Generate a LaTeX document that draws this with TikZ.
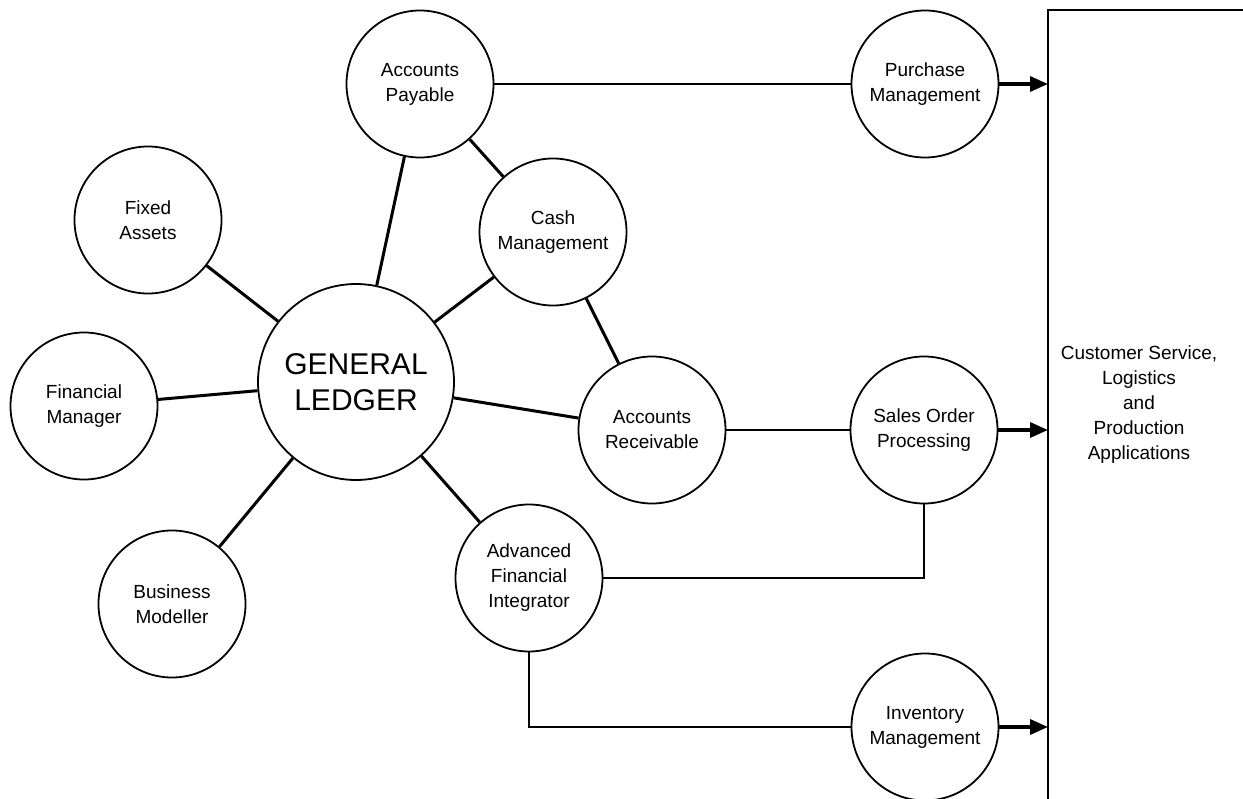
\documentclass[tikz,border=0pt]{standalone}
\usepackage{fontspec}
\setmainfont{Liberation Sans}
\usetikzlibrary{arrows.meta}
\begin{document}
\begin{tikzpicture}[x=1pt,y=-1pt,
  module/.style={circle,draw,line width=1.8pt,minimum size=147pt,inner sep=0pt,
                 align=center,font=\fontsize{19}{25}\selectfont},
  ledger/.style={module,minimum size=196pt,font=\fontsize{30}{36}\selectfont},
  spoke/.style={line width=3pt},
  link/.style={line width=2.2pt},
  thinlink/.style={line width=1.3pt},
  feed/.style={line width=3.5pt,-{Triangle[length=18pt,width=15pt]}}]
\useasboundingbox (0,0) rectangle (1243,799);

% finance modules
\node[ledger] (GL)  at (356,382) {GENERAL\\LEDGER};
\node[module] (AP)  at (420,84)  {Accounts\\Payable};
\node[module] (FA)  at (148,220) {Fixed\\Assets};
\node[module] (CM)  at (553,232) {Cash\\Management};
\node[module] (FM)  at (84,406)  {Financial\\Manager};
\node[module] (AR)  at (652,430) {Accounts\\Receivable};
\node[module] (AFI) at (529,578) {Advanced\\Financial\\Integrator};
\node[module] (BM)  at (172,604) {Business\\Modeller};

% logistics modules
\node[module] (PM)  at (925,84)  {Purchase\\Management};
\node[module] (SO)  at (924,430) {Sales Order\\Processing};
\node[module] (IM)  at (925,727) {Inventory\\Management};

% application block
\coordinate (edge) at (1048,10);
\draw[line width=2pt] (1245,10) -- (edge) -- (1048,801);
\node[align=center,font=\fontsize{19}{25}\selectfont] (apps) at (1139,405)
  {Customer Service,\\Logistics\\and\\Production\\Applications};

% ledger spokes
\draw[spoke] (GL) -- (AP);
\draw[spoke] (GL) -- (FA);
\draw[spoke] (GL) -- (CM);
\draw[spoke] (GL) -- (FM);
\draw[spoke] (GL) -- (AR);
\draw[spoke] (GL) -- (AFI);
\draw[spoke] (GL) -- (BM);
\draw[spoke] (AP) -- (CM);
\draw[spoke] (CM) -- (AR);

% links to logistics
\draw[thinlink] (AP.east) -- (PM.west);
\draw[link] (AR.east) -- (SO.west);
\draw[link] (SO.south) |- (AFI.east);
\draw[link] (AFI.south) |- (IM.west);

% feeds into applications
\draw[feed] (PM.east) -- (PM.east -| edge);
\draw[feed] (SO.east) -- (SO.east -| edge);
\draw[feed] (IM.east) -- (IM.east -| edge);
\end{tikzpicture}
\end{document}
